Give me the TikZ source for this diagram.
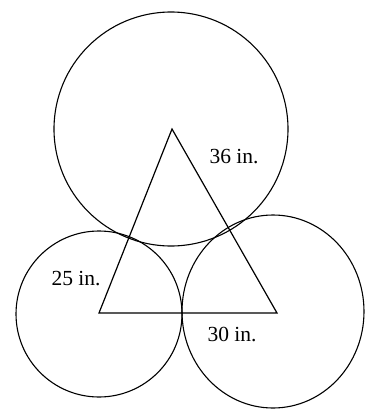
\documentclass[tikz,border=0pt]{standalone}
\usepackage{fontspec}
\setmainfont{Liberation Serif}
\usetikzlibrary{shapes.geometric}
\begin{document}
\begin{tikzpicture}[x=1pt,y=-1pt,
  ring/.style={draw=black,line width=1.1pt,inner sep=0pt},
  edge/.style={draw=black,line width=1.2pt,line join=miter},
  lbl/.style={font=\fontsize{21.5}{23}\selectfont,inner sep=0pt}]
\useasboundingbox (0,0) rectangle (367,410);
\node[ring,circle,minimum size=234pt] (top) at (171,129) {};
\node[ring,circle,minimum size=166pt] (left) at (99,314) {};
\node[ring,ellipse,minimum width=182pt,minimum height=193pt] (right) at (273,311.5) {};
\coordinate (A) at (172,129);
\coordinate (B) at (99,313);
\coordinate (C) at (277,313);
\draw[edge] (A) -- (B) -- (C) -- cycle;
\node[lbl] (l36) at (234,157) {36 in.};
\node[lbl] (l25) at (76,279) {25 in.};
\node[lbl] (l30) at (232,334) {30 in.};
\end{tikzpicture}
\end{document}
